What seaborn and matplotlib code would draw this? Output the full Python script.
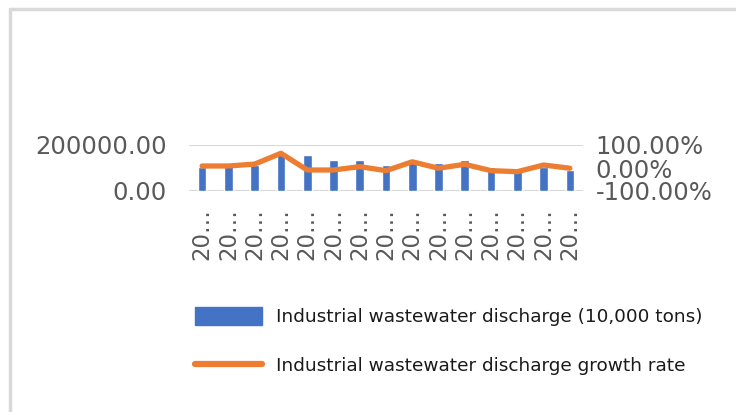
import numpy as np
import pandas as pd
import matplotlib
matplotlib.use('Agg')
import matplotlib.pyplot as plt
import seaborn as sns
from matplotlib.lines import Line2D
from matplotlib.patches import Patch
from matplotlib.ticker import FuncFormatter

# Données
years = ['2005', '2006', '2007', '2008', '2009', '2010', '2011', '2012',
         '2013', '2014', '2015', '2016', '2017', '2018', '2019']
tick_labels = ['20…'] * 15
discharge = [106000, 113000, 113000, 171000, 156000, 135000, 135000, 113000,
             127000, 123000, 135000, 106000, 91000, 106000, 91000]
growth = [0.087, 0.087, 0.17, 0.64, -0.087, -0.087, 0.058, -0.116,
          0.27, -0.01, 0.16, -0.116, -0.16, 0.13, -0.01]

bar_label = 'Industrial wastewater discharge (10,000 tons)'
line_label = 'Industrial wastewater discharge growth rate'

df = pd.DataFrame({'year': years, 'discharge': discharge, 'growth': growth,
                   'pos': np.arange(len(years))})

sns.set_style('white')
plt.rcParams['font.family'] = ['DejaVu Sans']

blue = '#4472C4'
orange = '#ED7D31'
grey_txt = '#595959'

fig = plt.figure(figsize=(7.36, 4.12), dpi=100)
ax = fig.add_axes([189 / 736, 1 - 191 / 412, 394 / 736, 46 / 412])

sns.barplot(data=df, x='year', y='discharge', color=blue, width=0.33,
            saturation=1, ax=ax, zorder=2)
ax.set_ylim(0, 200000)
ax.set_yticks([0, 200000])
ax.yaxis.set_major_formatter(FuncFormatter(lambda v, p: f'{v:.2f}'))
ax.grid(axis='y', color='#d9d9d9', linewidth=1.5, zorder=0)
ax.set_axisbelow(True)
ax.set_xlim(-0.5, len(years) - 0.5)
ax.set_xticks(df['pos'])
ax.set_xticklabels(tick_labels, rotation=90, va='top', ha='center')
ax.tick_params(axis='y', labelsize=17.5, colors=grey_txt, length=0, pad=16)
ax.tick_params(axis='x', labelsize=16.5, colors=grey_txt, length=0, pad=12)
ax.set_xlabel('')
ax.set_ylabel('')
sns.despine(ax=ax, left=True, bottom=True)

ax2 = ax.twinx()
sns.lineplot(data=df, x='pos', y='growth', color=orange, linewidth=3.8,
             ax=ax2, solid_capstyle='round', solid_joinstyle='round')
ax2.set_ylim(-1, 1)
ax2.set_yticks([-1, 0, 1])
ax2.yaxis.set_major_formatter(FuncFormatter(lambda v, p: f'{v * 100:.2f}%'))
ax2.tick_params(axis='y', labelsize=17.5, colors=grey_txt, length=0, pad=9)
ax2.set_xlim(-0.5, len(years) - 0.5)
ax2.set_ylabel('')
ax2.set_xlabel('')
for s in ax2.spines.values():
    s.set_visible(False)

handles = [Patch(facecolor=blue, edgecolor=blue),
           Line2D([0], [0], color=orange, linewidth=4.5, solid_capstyle='round')]
fig.legend(handles, [bar_label, line_label], loc='upper left',
           bbox_to_anchor=(195 / 736, 1 - 307 / 412), frameon=False,
           borderpad=0, borderaxespad=0,
           fontsize=13.3, handlelength=3.6, handleheight=1.1,
           handletextpad=0.8, labelspacing=1.62, labelcolor='#1a1a1a')

# cadre gris du graphique
fig.add_artist(Line2D([10 / 736, 1], [1 - 9 / 412, 1 - 9 / 412],
                      transform=fig.transFigure, color='#d9d9d9', linewidth=2.5))
fig.add_artist(Line2D([10 / 736, 10 / 736], [0, 1 - 9 / 412],
                      transform=fig.transFigure, color='#d9d9d9', linewidth=2.5))

fig.savefig('out.png', dpi=100)
